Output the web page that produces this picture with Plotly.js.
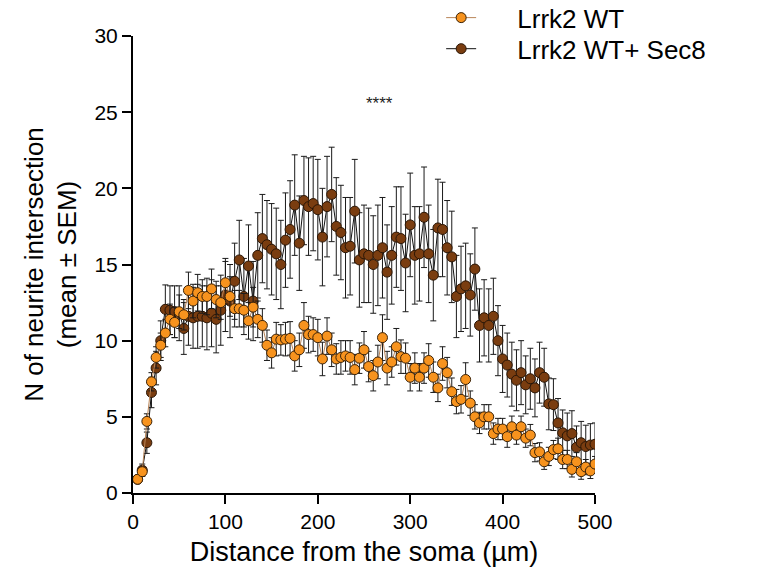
<!DOCTYPE html>
<html>
<head>
<meta charset="utf-8">
<script src="https://cdn.plot.ly/plotly-3.0.1.min.js"></script>
<style>
html,body{margin:0;padding:0;background:#fff;}
#chart{width:769px;height:580px;}
</style>
</head>
<body>
<div id="chart"></div>
<script>
// Distance from the soma (µm)
const distance = [5,10,15,20,25,30,35,40,45,50,55,60,65,70,75,80,85,90,95,100,
105,110,115,120,125,130,135,140,145,150,155,160,165,170,175,180,185,190,195,200,
205,210,215,220,225,230,235,240,245,250,255,260,265,270,275,280,285,290,295,300,
305,310,315,320,325,330,335,340,345,350,355,360,365,370,375,380,385,390,395,400,
405,410,415,420,425,430,435,440,445,450,455,460,465,470,475,480,485,490,495,500];

// Lrrk2 WT (mean)
const wtMean = [0.9,1.4,4.7,7.3,8.9,9.7,10.5,11.4,11.2,11.9,11.7,13.3,12.6,13.15,12.9,12.9,13.4,12.7,12.5,13.8,
12.9,12.1,12.1,12.0,11.3,12.2,11.4,11.0,9.7,9.2,10.1,10.05,10.1,10.15,9.0,9.4,11.0,10.4,10.4,10.2,
8.8,10.3,9.4,8.8,8.9,9.0,8.9,8.1,8.85,9.4,8.3,7.7,8.6,10.2,8.2,8.6,9.6,8.95,8.85,7.6,
8.2,7.6,8.2,8.7,7.6,6.9,8.5,7.9,6.65,6.0,6.15,7.45,5.9,5.0,4.6,5.0,5.0,3.9,4.2,4.2,
3.7,4.35,3.8,4.35,3.6,3.8,2.65,2.7,2.05,2.4,2.85,2.9,2.2,2.2,1.55,2.05,1.4,1.7,1.45,1.9];
// Lrrk2 WT (SEM)
const wtSem = [0.2,0.3,0.5,0.6,0.7,0.8,0.9,1.0,1.0,1.1,1.0,1.2,1.1,1.2,1.1,1.2,1.3,1.2,1.1,1.4,
1.3,1.2,1.2,1.1,1.2,1.3,1.2,1.1,1.0,1.0,1.1,1.0,1.1,1.1,1.0,1.1,1.5,1.2,1.1,1.2,
1.1,1.2,1.1,1.0,1.1,1.0,1.1,1.0,1.0,1.2,1.0,1.0,1.1,1.5,1.1,1.0,1.2,1.1,1.0,0.9,
1.0,0.9,1.0,1.1,1.0,0.9,1.1,1.0,0.9,0.8,0.9,1.1,0.8,0.8,0.7,0.8,0.8,0.7,0.7,0.7,
0.7,0.7,0.6,0.7,0.6,0.7,0.6,0.6,0.5,0.6,0.6,0.7,0.6,0.6,0.5,0.6,0.5,0.5,0.5,0.5];

// Lrrk2 WT+ Sec8 (mean)
const secMean = [0.9,1.5,3.3,6.6,8.2,10.0,12.06,12.0,11.9,11.8,10.8,11.6,11.5,11.6,11.6,11.5,11.8,11.4,12.0,13.0,
12.6,13.9,15.3,12.9,14.9,12.6,15.6,16.7,16.3,16.0,15.7,15.0,16.6,17.3,18.9,16.4,19.2,18.8,19.0,18.6,
16.8,18.8,19.6,17.5,17.1,16.1,16.2,18.5,15.3,15.7,15.6,15.0,15.6,16.1,14.5,15.6,16.8,16.7,15.1,17.6,
15.6,15.7,18.1,15.7,14.3,17.4,17.3,16.1,15.5,12.9,13.4,13.6,13.0,14.7,11.0,11.5,11.0,11.6,10.0,8.8,
8.4,7.8,7.4,7.9,7.1,7.5,6.9,7.9,7.6,5.85,5.8,4.6,3.95,3.75,3.9,3.0,3.3,3.05,3.15,3.2];
// Lrrk2 WT+ Sec8 (SEM)
const secSem = [0.2,0.4,0.7,1.0,1.1,1.3,1.6,1.6,1.7,1.8,1.7,1.9,2.0,2.1,2.0,2.1,2.2,2.2,2.3,2.4,
2.4,2.5,2.6,2.5,2.7,2.6,2.8,2.9,2.9,3.0,3.0,2.9,3.1,3.2,3.3,3.1,2.9,3.2,3.1,3.3,
3.2,3.3,3.1,3.2,3.1,3.3,3.2,3.4,3.1,3.2,3.1,3.2,3.3,3.3,3.1,3.2,3.3,3.4,3.2,3.4,
3.2,3.1,3.3,3.2,3.0,3.2,3.1,3.1,3.0,2.7,2.8,2.8,2.7,2.7,2.4,2.5,2.4,2.5,2.3,2.2,
2.1,2.1,2.0,2.1,1.9,2.0,1.9,2.0,1.9,1.7,1.7,1.6,1.5,1.5,1.5,1.4,1.4,1.4,1.4,1.4];

const seriesNames = ["Lrrk2 WT", "Lrrk2 WT+ Sec8"];
const xTickVals = [0,100,200,300,400,500];
const yTickVals = [0,5,10,15,20,25,30];
const sigText = "****";
const sigX = 267, sigY = 25.6;

const FONT = "Liberation Sans, Arial, sans-serif";
const PAD = "\u00a0\u00a0\u00a0\u00a0\u00a0";

const traceSec = {
  x: distance, y: secMean, name: PAD + seriesNames[1], type: "scatter", mode: "lines+markers",
  legend: "legend2",
  line: {color: "#111111", width: 1},
  marker: {color: "#7a3d10", size: 10, line: {color: "#2a1606", width: 1}},
  error_y: {type: "data", array: secSem, visible: true, color: "#1a1a1a", thickness: 1, width: 3}
};
const traceWT = {
  x: distance, y: wtMean, name: PAD + seriesNames[0], type: "scatter", mode: "lines+markers",
  legend: "legend",
  line: {color: "#b98558", width: 1},
  marker: {color: "#f7931e", size: 10, line: {color: "#3a2208", width: 1}},
  error_y: {type: "data", array: wtSem, visible: true, color: "#1a1a1a", thickness: 1, width: 3}
};

const legendFont = {family: FONT, size: 26, color: "#000"};
const layout = {
  width: 769, height: 580,
  margin: {l: 133, r: 174, t: 36, b: 87, autoexpand: false},
  paper_bgcolor: "#fff", plot_bgcolor: "#fff",
  font: {family: FONT, color: "#000"},
  showlegend: true,
  legend: {
    x: 0.667, y: 1.04, xanchor: "left", yanchor: "middle",
    font: legendFont, itemwidth: 30, bgcolor: "rgba(0,0,0,0)", borderwidth: 0
  },
  legend2: {
    x: 0.667, y: 0.972, xanchor: "left", yanchor: "middle",
    font: legendFont, itemwidth: 30, bgcolor: "rgba(0,0,0,0)", borderwidth: 0
  },
  xaxis: {
    range: [0, 500], tickvals: xTickVals, ticktext: xTickVals.map(String),
    showgrid: false, zeroline: false,
    showline: true, linecolor: "#000", linewidth: 2,
    ticks: "outside", ticklen: 9, tickwidth: 2, tickcolor: "#000",
    tickfont: {family: FONT, size: 21, color: "#000"},
    title: {text: "Distance from the soma (µm)", font: {family: FONT, size: 27, color: "#000"}, standoff: 10}
  },
  yaxis: {
    range: [0, 30], tickvals: yTickVals, ticktext: yTickVals.map(String),
    showgrid: false, zeroline: false,
    showline: true, linecolor: "#000", linewidth: 2,
    ticks: "outside", ticklen: 9, tickwidth: 2, tickcolor: "#000",
    tickfont: {family: FONT, size: 21, color: "#000"},
    title: {text: "N of neurite intersection<br>(mean ± SEM)", font: {family: FONT, size: 26, color: "#000"}, standoff: 10}
  },
  annotations: [{
    x: sigX, y: sigY, xref: "x", yref: "y", text: sigText, showarrow: false,
    font: {family: FONT, size: 17, color: "#222"}
  }]
};

Plotly.newPlot("chart", [traceSec, traceWT], layout, {displayModeBar: false, staticPlot: true});
</script>
</body>
</html>
